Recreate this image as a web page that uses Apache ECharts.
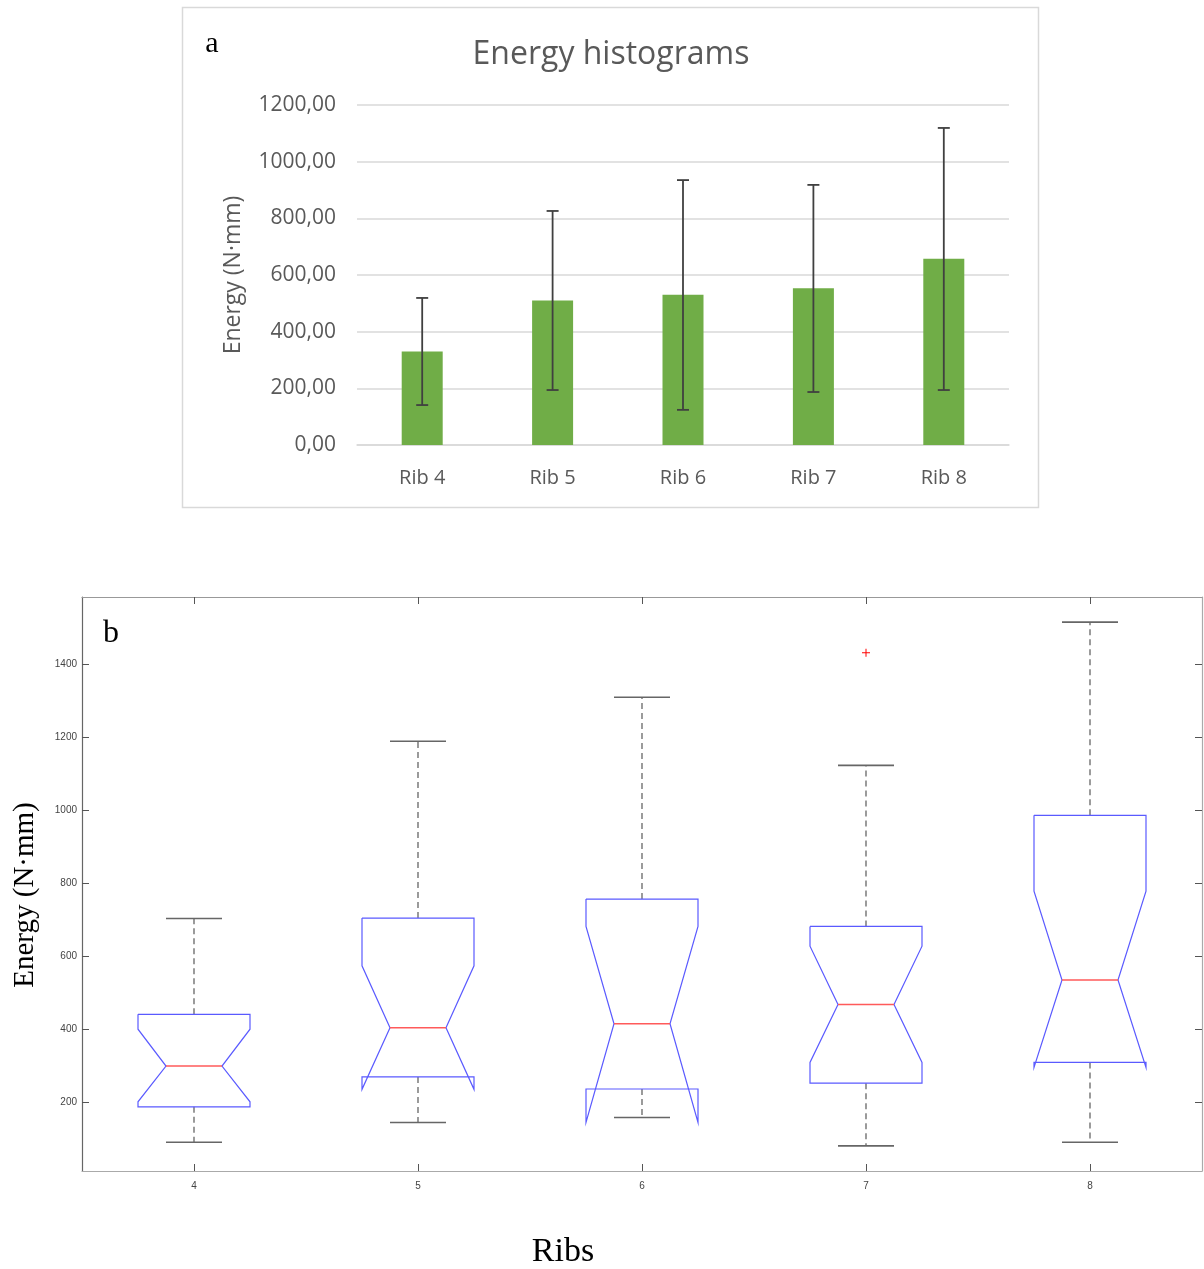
<!DOCTYPE html>
<html>
<head>
<meta charset="utf-8">
<script src="https://cdn.jsdelivr.net/npm/echarts@6/dist/echarts.min.js"></script>
<style>
  html, body { margin: 0; padding: 0; background: #ffffff; }
  #main { width: 1204px; height: 1269px; }
</style>
</head>
<body>
<div id="main"></div>
<script>
// ---------- Panel a: bar chart with error bars ----------
const ribLabels = ['Rib 4', 'Rib 5', 'Rib 6', 'Rib 7', 'Rib 8'];
const meanEnergy = [330, 510, 530, 553, 657];
const errLow = [141, 194, 124, 187, 194];
const errHigh = [519, 826, 935, 918, 1119];

// ---------- Panel b: notched box plots ----------
const ribNumbers = ['4', '5', '6', '7', '8'];
const whiskerLow = [89, 143, 157, 79, 89];
const q1 = [186, 268, 235, 251, 308];
const notchLow = [200, 234, 143, 308, 294];
const median = [298, 403, 414, 467, 534];
const notchHigh = [399, 573, 681, 627, 778];
const q3 = [440, 704, 756, 681, 986];
const whiskerHigh = [703, 1189, 1310, 1123, 1516];
const outlierRib = ['7'];
const outlierValue = [1432];
const boxTickValues = [200, 400, 600, 800, 1000, 1200, 1400];

const errorData = ribLabels.map((c, i) => [i, errLow[i], errHigh[i]]);
const boxData = ribNumbers.map((c, i) => [i, whiskerLow[i], q1[i], notchLow[i], median[i], notchHigh[i], q3[i], whiskerHigh[i]]);
const outlierData = outlierRib.map((r, k) => [ribNumbers.indexOf(r), outlierValue[k]]);

function renderErrorBar(params, api) {
  const i = api.value(0);
  const lo = api.coord([i, api.value(1)]);
  const hi = api.coord([i, api.value(2)]);
  const cap = 6;
  const st = { stroke: '#404040', lineWidth: 1.8 };
  return {
    type: 'group',
    children: [
      { type: 'line', shape: { x1: lo[0], y1: lo[1], x2: hi[0], y2: hi[1] }, style: st },
      { type: 'line', shape: { x1: hi[0] - cap, y1: hi[1], x2: hi[0] + cap, y2: hi[1] }, style: st },
      { type: 'line', shape: { x1: lo[0] - cap, y1: lo[1], x2: lo[0] + cap, y2: lo[1] }, style: st }
    ]
  };
}

function renderBox(params, api) {
  const i = api.value(0);
  const cx = api.coord([i, 0])[0];
  const band = api.size([1, 0])[0];
  const w = band * 0.25, wn = band * 0.125;
  const y = (k) => api.coord([i, api.value(k)])[1];
  const wl = y(1), a1 = y(2), nl = y(3), md = y(4), nh = y(5), a3 = y(6), wh = y(7);
  const dash = { stroke: '#666666', lineWidth: 1.3, lineDash: [6, 4] };
  const capSt = { stroke: '#666666', lineWidth: 1.6 };
  const pts = [
    [cx - w, a3], [cx + w, a3], [cx + w, nh], [cx + wn, md], [cx + w, nl],
    [cx + w, a1], [cx - w, a1], [cx - w, nl], [cx - wn, md], [cx - w, nh], [cx - w, a3]
  ];
  return {
    type: 'group',
    children: [
      { type: 'line', shape: { x1: cx, y1: a3, x2: cx, y2: wh }, style: dash },
      { type: 'line', shape: { x1: cx, y1: a1, x2: cx, y2: wl }, style: dash },
      { type: 'line', shape: { x1: cx - wn, y1: wh, x2: cx + wn, y2: wh }, style: capSt },
      { type: 'line', shape: { x1: cx - wn, y1: wl, x2: cx + wn, y2: wl }, style: capSt },
      { type: 'polyline', shape: { points: pts }, style: { stroke: '#5a5aff', lineWidth: 1.2, fill: null } },
      { type: 'line', shape: { x1: cx - wn, y1: md, x2: cx + wn, y2: md }, style: { stroke: '#ff5a5a', lineWidth: 1.6 } }
    ]
  };
}

function renderPlus(params, api) {
  const p = api.coord([api.value(0), api.value(1)]);
  const s = 4;
  const st = { stroke: '#ff0000', lineWidth: 1 };
  return {
    type: 'group',
    children: [
      { type: 'line', shape: { x1: p[0] - s, y1: p[1], x2: p[0] + s, y2: p[1] }, style: st },
      { type: 'line', shape: { x1: p[0], y1: p[1] - s, x2: p[0], y2: p[1] + s }, style: st }
    ]
  };
}

const sansFont = '"Open Sans", "Noto Sans", sans-serif';
const serifFont = '"Liberation Serif", "DejaVu Serif", serif';

const option = {
  animation: false,
  backgroundColor: '#ffffff',
  title: {
    text: 'Energy histograms',
    left: 606, top: 34, textAlign: 'center',
    textStyle: { fontFamily: sansFont, fontSize: 32, fontWeight: 'normal', color: '#595959' }
  },
  graphic: [
    { type: 'rect', shape: { x: 182.5, y: 7.5, width: 856, height: 500 }, style: { fill: null, stroke: '#d9d9d9', lineWidth: 1.5 }, silent: true },
    { type: 'text', x: 212, y: 44, style: { text: 'a', font: '30px "Liberation Serif", serif', fill: '#000', align: 'center', verticalAlign: 'middle' } },
    { type: 'text', x: 111, y: 634, style: { text: 'b', font: '32px "Liberation Serif", serif', fill: '#000', align: 'center', verticalAlign: 'middle' } },
    { type: 'text', x: 563, y: 1252, style: { text: 'Ribs', font: '34px "Liberation Serif", serif', fill: '#000', align: 'center', verticalAlign: 'middle' } },
    { type: 'text', x: 25, y: 895, rotation: Math.PI / 2, style: { text: 'Energy (N·mm)', font: '29px "Liberation Serif", serif', fill: '#000', align: 'center', verticalAlign: 'middle' } }
  ],
  grid: [
    { left: 357, top: 105, width: 652, height: 340 },
    { left: 82, top: 597, width: 1120, height: 574 }
  ],
  xAxis: [
    {
      gridIndex: 0, type: 'category', data: ribLabels,
      axisLine: { lineStyle: { color: '#d9d9d9', width: 1.5 } },
      axisTick: { show: false },
      axisLabel: { fontFamily: sansFont, fontSize: 20, color: '#595959', margin: 23 }
    },
    {
      gridIndex: 1, type: 'category', data: ribNumbers, position: 'bottom',
      axisLine: { lineStyle: { color: '#aaaaaa', width: 1.2 } },
      axisTick: { show: true, inside: true, length: 7, alignWithLabel: true, lineStyle: { color: '#555' } },
      axisLabel: { fontFamily: '"Liberation Sans", Arial, sans-serif', fontSize: 10, color: '#444', margin: 10 }
    },
    {
      gridIndex: 1, type: 'category', data: ribNumbers, position: 'top',
      axisLine: { lineStyle: { color: '#999999', width: 1.2 } },
      axisTick: { show: true, inside: true, length: 7, alignWithLabel: true, lineStyle: { color: '#555' } },
      axisLabel: { show: false }
    }
  ],
  yAxis: [
    {
      gridIndex: 0, type: 'value', min: 0, max: 1200, interval: 200,
      name: 'Energy (N·mm)', nameLocation: 'middle', nameGap: 112,
      nameTextStyle: { fontFamily: sansFont, fontSize: 23, color: '#595959' },
      axisLine: { show: false }, axisTick: { show: false },
      splitLine: { lineStyle: { color: '#d9d9d9', width: 1.5 } },
      axisLabel: { fontFamily: sansFont, fontSize: 21, color: '#595959', margin: 21,
        formatter: v => v.toFixed(2).replace('.', ',') }
    },
    {
      gridIndex: 1, type: 'value', min: 10, max: 1585, position: 'left',
      axisLine: { show: true, lineStyle: { color: '#666666', width: 1.2 } },
      axisTick: { show: true, inside: true, length: 7, customValues: boxTickValues, lineStyle: { color: '#555' } },
      splitLine: { show: false },
      axisLabel: { customValues: boxTickValues, formatter: v => String(Math.round(v)),
        fontFamily: '"Liberation Sans", Arial, sans-serif', fontSize: 10, color: '#444', margin: 5 }
    },
    {
      gridIndex: 1, type: 'value', min: 10, max: 1585, position: 'right',
      axisLine: { show: true, lineStyle: { color: '#aaaaaa', width: 1.2 } },
      axisTick: { show: true, inside: true, length: 7, customValues: boxTickValues, lineStyle: { color: '#555' } },
      splitLine: { show: false },
      axisLabel: { show: false }
    }
  ],
  series: [
    {
      type: 'bar', xAxisIndex: 0, yAxisIndex: 0, data: meanEnergy,
      barWidth: 41, itemStyle: { color: '#70ad47' }
    },
    {
      type: 'custom', xAxisIndex: 0, yAxisIndex: 0, data: errorData,
      renderItem: renderErrorBar, encode: { x: 0, y: [1, 2] }, z: 5
    },
    {
      type: 'custom', xAxisIndex: 1, yAxisIndex: 1, data: boxData,
      renderItem: renderBox, encode: { x: 0, y: [1, 2, 3, 4, 5, 6, 7] }, z: 5
    },
    {
      type: 'custom', xAxisIndex: 1, yAxisIndex: 1, data: outlierData,
      renderItem: renderPlus, encode: { x: 0, y: 1 }, z: 6
    }
  ]
};

const chart = echarts.init(document.getElementById('main'), null, { renderer: 'canvas' });
chart.setOption(option);
</script>
</body>
</html>
